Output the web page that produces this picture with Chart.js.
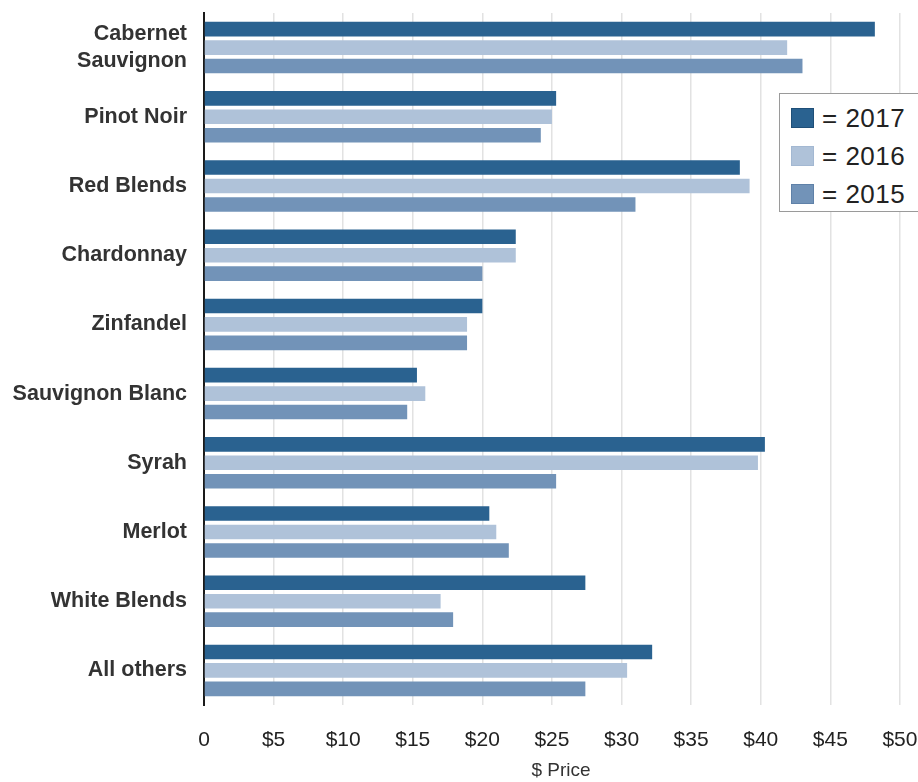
<!DOCTYPE html>
<html>
<head>
<meta charset="utf-8">
<script src="https://cdn.jsdelivr.net/npm/chart.js@4.4.0/dist/chart.umd.min.js"></script>
<style>
  html, body { margin: 0; padding: 0; background: #fff; overflow: hidden; }
  #wrap { position: relative; width: 918px; height: 782px; overflow: hidden; }
  #legend {
    position: absolute; left: 779px; top: 93px; width: 170px; height: 119px;
    border: 1px solid #9a9a9a; background: #fff; box-sizing: border-box;
    font-family: 'Liberation Sans', Arial, sans-serif; font-size: 26px; color: #222;
    letter-spacing: 0.5px;
  }
  .item { position: absolute; left: 11px; height: 22px; display: flex; align-items: center; }
  .sw { width: 23px; height: 20px; box-sizing: border-box; margin-right: 8px; }
</style>
</head>
<body>
<div id="wrap">
  <canvas id="wineChart" width="918" height="782"></canvas>
  <div id="legend"></div>
</div>
<script>
const categories = [
  ['Cabernet', 'Sauvignon'], 'Pinot Noir', 'Red Blends', 'Chardonnay', 'Zinfandel',
  'Sauvignon Blanc', 'Syrah', 'Merlot', 'White Blends', 'All others'
];
const price2017 = [48.2, 25.3, 38.5, 22.4, 20.0, 15.3, 40.3, 20.5, 27.4, 32.2];
const price2016 = [41.9, 25.0, 39.2, 22.4, 18.9, 15.9, 39.8, 21.0, 17.0, 30.4];
const price2015 = [43.0, 24.2, 31.0, 20.0, 18.9, 14.6, 25.3, 21.9, 17.9, 27.4];
const seriesNames = ['2017', '2016', '2015'];
const seriesColors = ['#2a6290', '#afc2d9', '#7293b8'];
const seriesBorders = ['#1f4f78', '#a3b8d2', '#5f81a8'];

const ctx = document.getElementById('wineChart').getContext('2d');

const wineChart = new Chart(ctx, {
  type: 'bar',
  data: {
    labels: categories,
    datasets: [price2017, price2016, price2015].map(function (d, i) {
      return {
        label: seriesNames[i],
        data: d,
        backgroundColor: seriesColors[i],
        borderWidth: 0,
        categoryPercentage: 0.8,
        barPercentage: 0.79
      };
    })
  },
  options: {
    indexAxis: 'y',
    responsive: false,
    animation: false,
    layout: { padding: { top: 13, right: 0, bottom: 0, left: 0 } },
    plugins: {
      legend: { display: false },
      tooltip: { enabled: false }
    },
    scales: {
      x: {
        min: 0,
        max: 51.3,
        afterFit: function (scale) {
          scale.height = 77;
          scale.paddingLeft = 0;
          scale.paddingRight = 0;
        },
        ticks: {
          stepSize: 5,
          includeBounds: false,
          padding: 23,
          color: '#222',
          font: { family: "'Liberation Sans', Arial, sans-serif", size: 21 },
          callback: function (v) { return v === 0 ? '0' : '$' + v; }
        },
        grid: { color: '#e2e2e2', lineWidth: 1.5, drawTicks: false },
        border: { display: false },
        title: {
          display: true,
          text: '$ Price',
          color: '#333',
          padding: { top: 0, bottom: 0 },
          font: { family: "'Liberation Sans', Arial, sans-serif", size: 19 }
        }
      },
      y: {
        afterFit: function (scale) {
          scale.width = 204;
          scale.paddingTop = 0;
          scale.paddingBottom = 0;
        },
        ticks: {
          padding: 17,
          color: '#333',
          font: { family: "'Liberation Sans', Arial, sans-serif", size: 21.5, weight: 'bold', lineHeight: 1.25 }
        },
        grid: { display: false, drawTicks: false },
        border: { display: true, color: '#1a1a1a', width: 2 }
      }
    }
  }
});

// legend box, built from the datasets
const legendEl = document.getElementById('legend');
wineChart.data.datasets.forEach(function (ds, i) {
  const item = document.createElement('div');
  item.className = 'item';
  item.style.top = (13 + i * 38) + 'px';
  const sw = document.createElement('span');
  sw.className = 'sw';
  sw.style.background = ds.backgroundColor;
  sw.style.border = '1px solid ' + seriesBorders[i];
  item.appendChild(sw);
  item.appendChild(document.createTextNode('= ' + ds.label));
  legendEl.appendChild(item);
});
</script>
</body>
</html>
